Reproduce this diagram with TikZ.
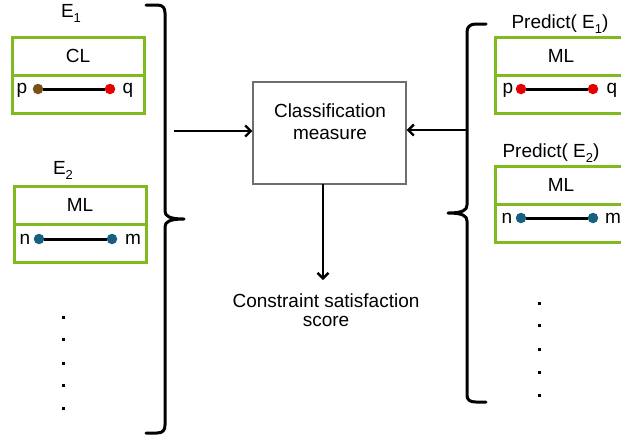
\documentclass[tikz,border=0pt]{standalone}
\usepackage{fontspec}
\setmainfont{Liberation Sans}
\usetikzlibrary{arrows.meta}
\definecolor{boxgreen}{RGB}{128,186,30}
\definecolor{ptbrown}{RGB}{122,80,22}
\definecolor{ptred}{RGB}{232,0,0}
\definecolor{ptblue}{RGB}{24,96,128}
\definecolor{framegray}{RGB}{110,110,110}
\newcommand{\lowsub}[1]{\raisebox{-0.28em}{\fontsize{13}{15}\selectfont #1}}
\begin{document}
\begin{tikzpicture}[x=1pt,y=-1pt,
  txt/.style={font=\fontsize{19}{22}\selectfont, inner sep=0pt},
  half/.style={draw=boxgreen, line width=3pt, minimum width=132pt,
    minimum height=38pt, inner sep=0pt, font=\fontsize{19}{22}\selectfont},
  endpt/.style={circle, fill=#1, minimum size=10.5pt, inner sep=0pt},
  link/.style={line width=3pt},
  arr/.style={line width=2.6pt, -{Straight Barb[length=5.5pt,width=11pt,line width=2.4pt]}},
  brace/.style={line width=3pt, line cap=round, line join=round},
  dotmark/.style={fill=black, minimum size=3pt, inner sep=0pt}
]
\useasboundingbox (0,0) rectangle (621,440);
\clip (0,0) rectangle (621,440);

% ---------- left column: examples ----------
\node[txt, anchor=base] (e1) at (71,17) {E\lowsub{1}};
\node[half] (cl) at (78,56) {CL};
\node[half] (clpair) at (78,94) {};
\node[txt] (p1) at (22,90) {p};
\node[txt] (q1) at (128,90) {q};
\node[endpt=ptbrown] (p1d) at (38,89) {};
\node[endpt=ptred] (q1d) at (110,89) {};
\draw[link] (p1d) -- (q1d);

\node[txt, anchor=base] (e2) at (63,174) {E\lowsub{2}};
\node[half] (ml1) at (80,205) {ML};
\node[half] (mlpair1) at (80,243) {};
\node[txt] (n1) at (25,239) {n};
\node[txt] (m1) at (133,239) {m};
\node[endpt=ptblue] (n1d) at (39,239) {};
\node[endpt=ptblue] (m1d) at (112,239) {};
\draw[link] (n1d) -- (m1d);

\foreach \i/\y in {1/317,2/339,3/363,4/385,5/408}
  \node[dotmark] (ld\i) at (63,\y) {};

% left brace
\draw[brace] (146,5) -- (157,5) .. controls (163,5) and (165,8) .. (165,13)
  -- (165,211) .. controls (165,216) and (169,219) .. (184,219)
  .. controls (169,219) and (165,222) .. (165,227)
  -- (165,425) .. controls (165,430) and (163,433) .. (157,433) -- (146,433);

% ---------- centre: measure ----------
\node[draw=framegray, line width=1.2pt, minimum width=153pt, minimum height=102pt,
  inner sep=0pt] (cls) at (329.5,133) {};
\node[txt, anchor=base] (clst1) at (330,117) {Classification};
\node[txt, anchor=base] (clst2) at (330,139) {measure};

\coordinate (lin) at (174,131);
\draw[arr] (lin) -- (lin -| cls.west);
\coordinate (rin) at (466,130);
\draw[arr] (rin) -- (rin -| cls.east);

\coordinate (down) at (323,184);
\coordinate (downend) at (323,280);
\draw[arr] (down) -- (downend);
\node[txt, anchor=base] (sc1) at (326,307) {Constraint satisfaction};
\node[txt, anchor=base] (sc2) at (326,326) {score};

% ---------- right column: predictions ----------
\node[txt, anchor=base] (pe1) at (560,28) {Predict( E\lowsub{1})};
\node[half] (ml2) at (561,56) {ML};
\node[half] (mlpair2) at (561,94) {};
\node[txt] (p2) at (508,90) {p};
\node[txt] (q2) at (612,90) {q};
\node[endpt=ptred] (p2d) at (521,89) {};
\node[endpt=ptred] (q2d) at (593,89) {};
\draw[link] (p2d) -- (q2d);

\node[txt, anchor=base] (pe2) at (551,157) {Predict( E\lowsub{2})};
\node[half] (ml3) at (561,185) {ML};
\node[half] (mlpair3) at (561,223) {};
\node[txt] (n2) at (507,218) {n};
\node[txt] (m2) at (613,218) {m};
\node[endpt=ptblue] (n2d) at (521,218) {};
\node[endpt=ptblue] (m2d) at (593,218) {};
\draw[link] (n2d) -- (m2d);

\foreach \i/\y in {1/303,2/325,3/349,4/372,5/395}
  \node[dotmark] (rd\i) at (539,\y) {};

% right brace
\draw[brace] (486,24) -- (476,24) .. controls (470,24) and (467,27) .. (467,32)
  -- (467,205) .. controls (467,210) and (463,213) .. (448,213)
  .. controls (463,213) and (467,216) .. (467,221)
  -- (467,395) .. controls (467,400) and (470,402) .. (476,402) -- (486,402);
\end{tikzpicture}
\end{document}
